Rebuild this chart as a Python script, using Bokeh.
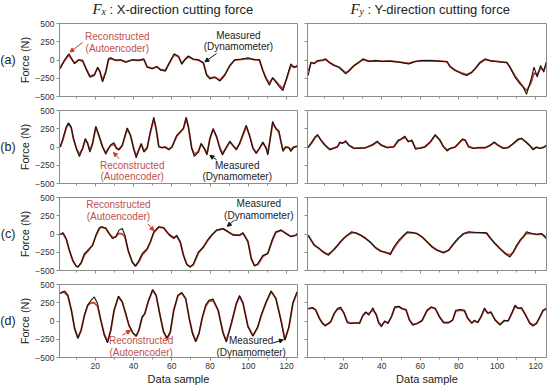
from bokeh.plotting import figure
from bokeh.layouts import column, row
from bokeh.models import Range1d, FixedTicker, Label, Arrow, NormalHead
from bokeh.embed import file_html
from bokeh.resources import INLINE

FONT = "Liberation Sans"
SERIF = "Liberation Serif"
BLACK = "#151515"
RED = "#c8412c"
RED_TXT = "#c0504d"
FRAME = "#8c8c8c"
TXT = "#222222"

# ---------------- data ----------------
x_ticks = [20, 40, 60, 80, 100, 120]
x_minor = [10, 30, 50, 70, 90, 110]
y_ticks = [-500, -250, 0, 250, 500]
row_tags = ["(a)", "(b)", "(c)", "(d)"]

# (a) Fx
a_x_L = [1.7, 3.9, 6.2, 9.1, 11.3, 13.4, 15.1, 17.2, 19.5, 21.2, 22.4, 23.8, 25.5, 26.9, 28.1, 30.7, 33.3, 35.9, 39.3, 42.8,
         45.4, 47.1, 49.7, 52.3, 54.0, 56.6, 59.2, 61.2, 63.5, 65.2, 66.9, 68.7, 71.3, 73.9, 76.5, 78.2, 79.9, 82.5, 85.1, 87.7,
         90.3, 92.9, 96.3, 99.8, 103.2, 105.8, 107.6, 109.3, 111.0, 112.7, 114.0, 116.0, 118.1, 120.0, 122.2, 124.0, 125.5]
a_fx_meas = [-121, 0, 85, -52, 3, -5, -121, -235, -212, -98, -150, -304, -170, 16, 30, -5, 3, -30, 3, -5,
             16, -98, -121, -90, -135, -153, -15, 85, 53, -60, 10, 55, 10, 3, -40, -212, -260, -235, -290, -212,
             -75, 3, 10, 30, 3, 3, -150, -260, -345, -240, -290, -360, -418, -250, -52, -98, -75]
a_fx_rec = [-100, -10, 70, -40, 0, -15, -110, -220, -200, -110, -160, -280, -160, 0, 20, -5, 0, -25, 0, -5,
            5, -90, -115, -95, -130, -140, -20, 70, 45, -45, 5, 45, 10, 0, -40, -200, -245, -235, -275, -200,
            -80, 0, 10, 20, 5, 0, -140, -250, -320, -250, -280, -340, -390, -260, -80, -100, -90]
# (a) Fy
a_x_R = [1.7, 3.1, 4.8, 6.5, 9.1, 10.8, 12.5, 15.1, 17.7, 19.5, 21.2, 22.9, 25.5, 28.1, 30.2, 33.3, 36.7, 40.2, 44.5, 48.8,
         54.0, 57.5, 60.9, 66.1, 71.3, 73.9, 75.6, 78.2, 81.7, 84.2, 86.8, 88.5, 91.1, 93.7, 96.3, 98.9, 102.4, 105.0, 106.7, 109.3,
         111.9, 113.6, 115.3, 117.5, 119.2, 120.9, 122.6, 124.3, 125.5]
a_fy_meas = [-212, -30, -53, -8, 0, 16, -30, -75, -98, -144, -190, -144, -75, -30, 16, -20, -8, -20, -15, -30,
             -53, -20, -8, -8, -20, -20, -98, -144, -190, -212, -167, -121, -30, 16, -8, -20, -30, -30, -98, -235,
             -327, -372, -470, -281, -98, -235, -75, -167, -30]
a_fy_rec = [-150, -40, -40, -15, -5, 5, -30, -70, -100, -140, -175, -150, -80, -30, 5, -15, -10, -15, -15, -25,
            -45, -20, -10, -10, -15, -25, -90, -140, -180, -200, -170, -120, -40, 5, -10, -15, -25, -35, -100, -220,
            -310, -370, -420, -320, -180, -200, -110, -140, -60]

# (b) Fx
b_x_L = [1.7, 3.1, 4.8, 6.0, 7.4, 8.6, 10.3, 11.7, 13.4, 14.8, 16.0, 17.2, 18.6, 20.3, 22.1, 23.8, 25.5, 26.9, 28.1, 29.8,
         31.0, 32.4, 34.1, 36.7, 38.4, 40.2, 41.4, 42.8, 44.0, 45.4, 47.1, 48.8, 50.6, 51.8, 53.2, 54.9, 56.6, 58.4, 60.1, 62.6,
         66.1, 67.5, 68.7, 70.4, 71.8, 73.9, 75.3, 77.0, 78.4, 79.9, 81.6, 83.4, 85.1, 86.5, 88.2, 90.3, 92.0, 93.7, 95.4, 98.9,
         100.6, 102.4, 104.1, 105.8, 107.6, 109.3, 110.2, 112.7, 114.4, 116.0, 117.0, 118.1, 119.6, 121.2, 122.2, 123.7, 125.5]
b_fx_meas = [0, 117, 275, 330, 275, 117, -40, -130, -20, 117, 50, -70, 50, 285, 140, 0, -100, -20, 30, 60,
             -20, -40, 20, 260, 160, -40, -150, -40, 50, -70, -20, 210, 410, 250, 0, -10, 0, -40, 0, 160,
             260, 410, 275, -20, -130, -70, 50, -20, -110, 117, 255, 140, -20, -110, -20, 80, 20, -40, 50, 300,
             160, -20, -90, -20, 70, -20, -110, 350, 250, 220, 80, -60, 0, -10, -60, -5, 10]
b_fx_rec = [0, 100, 260, 320, 265, 110, -30, -100, -20, 100, 50, -50, 50, 270, 140, 5, -80, -20, 20, 40,
            -10, -30, 20, 250, 160, -30, -120, -40, 40, -50, -10, 200, 380, 250, 10, -10, 0, -30, 0, 150,
            250, 390, 270, -10, -100, -60, 40, -20, -90, 110, 240, 140, -10, -90, -20, 70, 20, -30, 40, 280,
            160, -10, -80, -20, 60, -10, -90, 320, 260, 200, 80, -40, 0, -10, -40, 0, 10]
# (b) Fy
b_x_R = [1.7, 3.6, 5.3, 6.5, 8.2, 10.5, 12.9, 15.1, 16.9, 18.1, 19.5, 21.2, 22.9, 25.5, 28.1, 31.6, 35.0, 37.6, 39.8, 42.8,
         46.2, 48.5, 50.2, 51.9, 53.7, 55.7, 57.5, 59.5, 62.3, 65.2, 67.8, 70.1, 72.1, 73.9, 75.6, 78.2, 79.9, 82.0, 83.4, 85.1,
         87.7, 90.3, 93.7, 96.3, 98.5, 100.6, 103.2, 105.8, 108.4, 111.0, 112.7, 114.8, 117.0, 118.7, 120.5, 122.2, 123.9, 125.5]
b_fy_meas = [-10, 70, 140, 170, 95, 20, -40, -15, 0, 70, 50, 85, 20, -20, -15, -10, 30, 80, 20, -10,
             0, 95, 110, 150, 70, 95, -30, -20, 0, 70, 170, 95, 0, -55, -20, 0, 50, 110, 95, 0,
             -20, -10, -10, 20, 70, 20, -20, -10, 50, 110, 120, 70, 20, -40, 0, -20, -10, 20]
b_fy_rec = [0, 60, 130, 160, 100, 25, -30, -15, 5, 55, 55, 70, 25, -15, -15, -10, 25, 70, 25, -5,
            5, 80, 110, 135, 85, 80, -15, -15, 0, 65, 160, 100, 5, -40, -20, 0, 45, 100, 90, 10,
            -15, -10, -10, 20, 60, 25, -15, -5, 45, 100, 115, 75, 20, -25, -5, -15, -5, 10]

# (c) Fx
c_x_L = [1.7, 3.1, 4.8, 6.5, 8.3, 10.0, 10.9, 12.6, 14.3, 16.9, 18.6, 20.3, 22.1, 23.3, 25.5, 27.2, 29.0, 30.7, 32.4, 34.1,
         35.5, 37.2, 39.3, 41.0, 42.8, 44.5, 47.1, 48.8, 50.6, 53.2, 55.7, 58.4, 61.0, 62.6, 64.4, 66.1, 67.8, 69.6, 71.3, 73.9,
         76.5, 78.7, 80.8, 83.4, 86.8, 89.4, 92.0, 95.4, 97.2, 99.8, 101.5, 103.2, 104.9, 107.6, 110.2, 112.7, 114.4, 117.1, 119.6, 122.2,
         124.8, 125.5]
c_fx_meas = [-7, 16, -62, -224, -362, -440, -454, -394, -270, -200, -155, -16, 85, 100, 76, 7, -62, -39, 53, 76,
             -16, -224, -385, -440, -362, -270, -200, -108, 30, 100, 85, -7, -62, -16, -108, -293, -422, -454, -408, -247,
             -178, -85, -16, 53, 76, 30, -16, -16, 18, -108, -339, -440, -408, -293, -270, -62, 30, 53, 7, -39,
             -16, 5]
c_fx_rec = [-7, 10, -70, -230, -370, -440, -450, -400, -290, -210, -150, -30, 70, 95, 80, 10, -50, -40, 10, 0,
            -40, -230, -380, -440, -380, -290, -210, -110, 20, 95, 85, 0, -50, -30, -110, -290, -410, -450, -420, -260,
            -180, -90, -20, 50, 70, 30, -10, -20, 10, -100, -330, -430, -420, -310, -260, -80, 20, 50, 10, -30,
            -20, 0]
# (c) Fy
c_x_R = [1.7, 3.1, 4.8, 7.4, 9.1, 10.8, 12.2, 13.4, 15.1, 16.9, 18.6, 20.3, 22.0, 24.3, 26.3, 28.9, 31.6, 34.1, 36.7, 39.3,
         41.9, 44.5, 46.2, 48.8, 51.4, 53.2, 55.7, 58.3, 60.9, 63.5, 66.1, 68.7, 72.1, 74.7, 77.3, 79.9, 82.5, 85.1, 88.5, 91.9,
         94.5, 96.3, 98.9, 101.5, 104.1, 106.7, 108.4, 110.1, 111.9, 113.6, 115.3, 117.9, 120.5, 123.1, 125.5]
c_fy_meas = [-16, -85, -155, -200, -237, -270, -293, -256, -210, -155, -100, -53, -16, 30, 16, -16, -62, -116, -190, -237,
             -247, -284, -178, -85, -16, 30, 20, 7, -39, -108, -178, -224, -260, -224, -131, -53, 7, 30, 20, 20,
             16, -53, -131, -200, -270, -316, -247, -155, -85, -39, 30, 7, -7, 7, -62]
c_fy_rec = [-20, -80, -150, -200, -240, -265, -275, -255, -215, -160, -105, -60, -20, 15, 15, -15, -60, -115, -185, -230,
            -255, -265, -200, -100, -25, 15, 20, 5, -40, -105, -170, -220, -250, -225, -140, -60, 0, 20, 20, 15,
            10, -50, -130, -200, -260, -290, -250, -170, -95, -40, 10, 5, -5, 0, -40]

# (d) Fx
d_x_L = [1.7, 3.1, 4.0, 5.7, 7.5, 9.2, 10.9, 12.6, 14.3, 16.0, 17.8, 19.5, 21.2, 22.9, 24.7, 26.4, 28.1, 29.8, 32.1, 34.1,
         35.9, 37.6, 39.7, 41.4, 42.8, 44.5, 45.9, 47.6, 50.0, 51.8, 54.0, 55.7, 57.5, 59.2, 61.0, 63.2, 65.2, 67.3, 69.1, 70.8,
         72.5, 74.2, 76.0, 77.7, 79.4, 81.6, 84.2, 86.8, 88.5, 91.1, 93.7, 95.4, 97.2, 99.8, 102.4, 104.9, 106.7, 109.3, 111.9, 114.4,
         117.1, 119.1, 121.2, 123.3, 125.5]
d_fx_meas = [377, 400, 410, 354, 148, -103, -240, -125, 80, 217, 285, 330, 240, 10, -194, -300, -125, 148, 340, 263,
             103, -57, -162, -200, -125, 57, 103, 263, 431, 354, 57, -148, -230, -148, 148, 354, 390, 308, 34, -171,
             -285, -171, 57, 217, 285, 300, 148, -171, -290, -34, 240, 350, 240, -80, -210, -80, 80, 263, 415, 308,
             0, -265, -80, 250, 400]
d_fx_rec = [380, 395, 390, 340, 150, -100, -230, -130, 70, 210, 250, 250, 200, 10, -180, -285, -130, 140, 330, 260,
            100, -60, -170, -210, -130, 50, 100, 260, 420, 350, 60, -150, -250, -160, 140, 345, 380, 300, 40, -160,
            -275, -170, 50, 200, 270, 280, 150, -160, -270, -40, 230, 335, 250, -70, -200, -90, 70, 250, 400, 310,
            10, -255, -90, 240, 390]
# (d) Fy
d_x_R = [1.7, 3.9, 5.6, 7.4, 9.1, 10.5, 12.2, 13.4, 15.1, 16.9, 18.6, 20.3, 22.0, 23.7, 26.3, 28.4, 30.1, 31.6, 33.2, 35.3,
         37.1, 38.4, 39.8, 41.5, 43.2, 45.0, 46.7, 48.8, 50.5, 52.6, 54.3, 56.1, 58.3, 60.9, 63.5, 65.7, 67.8, 69.9, 72.1, 74.7,
         76.8, 78.5, 80.8, 83.0, 84.7, 86.8, 88.2, 89.9, 91.6, 93.4, 95.1, 96.8, 98.9, 101.5, 103.7, 105.8, 107.9, 109.3, 111.0, 112.7,
         114.8, 117.0, 118.7, 120.5, 122.2, 123.9, 125.5]
d_fy_meas = [171, 185, 148, 34, -34, -71, -34, -11, 103, 171, 190, 103, -25, -34, -25, -34, 80, 126, 80, 180,
             80, -34, -80, 2, -34, 57, 194, 203, 171, 157, 11, -57, -34, 2, 148, 194, 171, 57, -25, -25,
             11, 148, 157, 148, 34, -34, 11, -25, 57, 180, 103, 126, 11, -57, 11, 2, 126, 217, 171, 185,
             80, -34, -71, -34, 57, 148, 171]
d_fy_rec = [165, 180, 150, 45, -30, -55, -35, -10, 95, 160, 170, 110, -10, -30, -25, -25, 70, 110, 100, 150,
            90, -20, -60, -10, -25, 60, 180, 195, 170, 150, 20, -45, -35, 5, 140, 185, 170, 65, -15, -20,
            10, 135, 150, 140, 40, -25, 0, -15, 55, 160, 115, 115, 20, -45, 0, 5, 115, 200, 175, 170,
            85, -25, -55, -30, 50, 140, 165]

# annotation placements for the left (Fx) panels: text centre (x, y1, y2), arrow (x0, y0, x1, y1)
notes = [
    dict(rec=(31.5, 322, 157), rec_arrow=(13.4, 240, 6.8, 110),
         mea=(94.8, 336, 185), mea_arrow=(83.4, 89, 77.3, -25)),
    dict(rec=(39.3, -252, -400), rec_arrow=(32.5, -160, 29.5, -75),
         mea=(94.2, -252, -400), mea_arrow=(83.4, -175, 79.9, -115)),
    dict(rec=(32.1, 399, 237), rec_arrow=(47.5, 140, 50.6, 45),
         mea=(105.5, 422, 260), mea_arrow=(92.8, 191, 89.0, 105)),
    dict(rec=(44.0, -272, -436), rec_arrow=(34.1, -194, 38.4, -130),
         mea=(101.5, -272, -436), mea_arrow=(113.0, -300, 118.3, -258)),
]

FH = 73          # frame height of each panel
TAG_W = 16       # strip that carries the (a)..(d) tags
TITLE_H = 18     # strip that carries the two column titles
L_BL, L_FW, L_BR = 41, 240, 5
R_BL, R_FW, R_BR = 5, 239, 3
TOTAL_W = TAG_W + L_BL + L_FW + L_BR + R_BL + R_FW + R_BR


def panel(xs, meas, rec, left, top, bottom):
    bt = 5 if top else 7
    bb = 31 if bottom else 7
    if left:
        bl, br, fw = L_BL, L_BR, L_FW
    else:
        bl, br, fw = R_BL, R_BR, R_FW
    p = figure(width=bl + fw + br, height=bt + FH + bb, title=None,
               x_range=Range1d(1.3, 125.7), y_range=Range1d(-500, 500),
               output_backend="svg", toolbar_location=None,
               min_border_left=bl, min_border_right=br,
               min_border_top=bt, min_border_bottom=bb)
    p.background_fill_color = "white"
    p.border_fill_color = "white"
    p.outline_line_color = FRAME
    p.outline_line_width = 1
    p.grid.visible = False
    p.xaxis.ticker = FixedTicker(ticks=x_ticks, minor_ticks=x_minor)
    p.yaxis.ticker = FixedTicker(ticks=y_ticks)
    for ax in (p.xaxis[0], p.yaxis[0]):
        ax.axis_line_color = FRAME
        ax.major_tick_line_color = FRAME
        ax.minor_tick_line_color = FRAME
        ax.major_tick_out = 3
        ax.major_tick_in = 0
        ax.minor_tick_out = 2
        ax.minor_tick_in = 0
        ax.major_label_text_font = FONT
        ax.major_label_text_font_size = "8.5px"
        ax.major_label_text_color = "#333333"
        ax.major_label_standoff = 3
    p.yaxis.minor_tick_line_color = None
    if left:
        p.yaxis.axis_label = "Force (N)"
        p.yaxis.axis_label_text_font = FONT
        p.yaxis.axis_label_text_font_size = "11px"
        p.yaxis.axis_label_text_font_style = "normal"
        p.yaxis.axis_label_text_color = TXT
        p.yaxis.axis_label_standoff = 1
        p.yaxis.major_label_standoff = 2
    else:
        p.yaxis.major_label_text_color = None
    if bottom:
        p.xaxis.axis_label = "Data sample"
        p.xaxis.axis_label_text_font = FONT
        p.xaxis.axis_label_text_font_size = "11px"
        p.xaxis.axis_label_text_font_style = "normal"
        p.xaxis.axis_label_text_color = TXT
        p.xaxis.axis_label_standoff = 1
        p.xaxis.major_label_standoff = 2
    else:
        p.xaxis.major_label_text_color = None
    p.line(xs, rec, line_color=RED, line_width=1.8)
    p.line(xs, meas, line_color=BLACK, line_width=1.1)
    return p


def add_notes(p, n):
    rx, ry1, ry2 = n["rec"]
    mx, my1, my2 = n["mea"]
    for x, y, t, c in [(rx, ry1, "Reconstructed", RED_TXT), (rx, ry2, "(Autoencoder)", RED_TXT),
                       (mx, my1, "Measured", TXT), (mx, my2, "(Dynamometer)", TXT)]:
        p.add_layout(Label(x=x, y=y, text=t, text_font=FONT, text_font_size="10px",
                           text_color=c, text_align="center", text_baseline="middle"))
    for key, c in [("rec_arrow", RED), ("mea_arrow", BLACK)]:
        x0, y0, x1, y1 = n[key]
        p.add_layout(Arrow(x_start=x0, y_start=y0, x_end=x1, y_end=y1,
                           line_color=c, line_width=1,
                           end=NormalHead(size=4, line_color=c, fill_color=c)))


def strip(w, h, x0, x1):
    s = figure(width=w, height=h, title=None, x_range=Range1d(x0, x1), y_range=Range1d(h, 0),
               output_backend="svg", toolbar_location=None,
               x_axis_location=None, y_axis_location=None,
               min_border=0, min_border_left=0, min_border_right=0,
               min_border_top=0, min_border_bottom=0)
    s.outline_line_color = None
    s.grid.visible = False
    s.background_fill_color = "white"
    s.border_fill_color = "white"
    return s


# title strip (data x = page x, data y = page y)
title_fig = strip(TOTAL_W - TAG_W, TITLE_H, TAG_W, TOTAL_W)
for fx, sub, rest in [(92, "x", ": X-direction cutting force"), (350, "y", ": Y-direction cutting force")]:
    title_fig.add_layout(Label(x=fx, y=8.5, text="F", text_font=SERIF, text_font_style="italic",
                               text_font_size="15px", text_color=TXT, text_align="left",
                               text_baseline="middle"))
    title_fig.add_layout(Label(x=fx + 9, y=11, text=sub, text_font=SERIF, text_font_style="italic",
                               text_font_size="10px", text_color=TXT, text_align="left",
                               text_baseline="middle"))
    title_fig.add_layout(Label(x=fx + 17, y=8.5, text=rest, text_font=FONT, text_font_size="13px",
                               text_color=TXT, text_align="left", text_baseline="middle"))

data = [
    (a_x_L, a_fx_meas, a_fx_rec, a_x_R, a_fy_meas, a_fy_rec),
    (b_x_L, b_fx_meas, b_fx_rec, b_x_R, b_fy_meas, b_fy_rec),
    (c_x_L, c_fx_meas, c_fx_rec, c_x_R, c_fy_meas, c_fy_rec),
    (d_x_L, d_fx_meas, d_fx_rec, d_x_R, d_fy_meas, d_fy_rec),
]

rows = []
centres = []
ypos = TITLE_H
for i, (xl, ml, rl, xr, mr, rr) in enumerate(data):
    top = i == 0
    bottom = i == 3
    pl = panel(xl, ml, rl, True, top, bottom)
    pr = panel(xr, mr, rr, False, top, bottom)
    add_notes(pl, notes[i])
    bt = 5 if top else 7
    centres.append(ypos + bt + FH / 2)
    ypos += pl.height
    rows.append(row(pl, pr))

# tag strip on the far left
tag_fig = strip(TAG_W, ypos, 0, TAG_W)
for tag, yc in zip(row_tags, centres):
    tag_fig.add_layout(Label(x=7.5, y=yc, text=tag, text_font=FONT, text_font_size="12.5px",
                             text_color=TXT, text_align="center", text_baseline="middle"))

layout = row(tag_fig, column(title_fig, *rows))
open("out.html", "w").write(file_html(layout, INLINE))
